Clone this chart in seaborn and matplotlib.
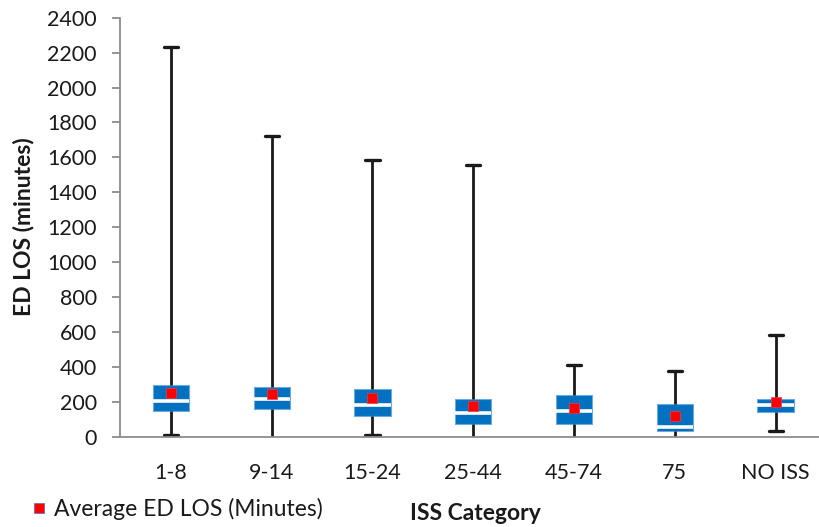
import numpy as np
import pandas as pd
import matplotlib
matplotlib.use("Agg")
import matplotlib.pyplot as plt
from matplotlib.ticker import FixedLocator, MultipleLocator
from matplotlib.lines import Line2D
import seaborn as sns

categories = ["1-8", "9-14", "15-24", "25-44", "45-74", "75", "NO ISS"]
mins = [8, 0, 8, 0, 0, 0, 30]
q1 = [150, 160, 120, 74, 74, 34, 143]
medians = [206, 215, 179, 135, 150, 55, 179]
q3 = [297, 284, 274, 215, 236, 189, 217]
maxs = [2235, 1720, 1583, 1555, 408, 379, 580]
means = [253, 244, 219, 173, 166, 116, 198]

rows = []
for c, a, b, m, d, e in zip(categories, mins, q1, medians, q3, maxs):
    for v in (a, b, m, d, e):
        rows.append({"cat": c, "val": v})
df = pd.DataFrame(rows)
mean_df = pd.DataFrame({"cat": categories, "mean": means})

sns.set_theme(style="white")
plt.rcParams["font.family"] = ["Lato", "DejaVu Sans"]

TXT = "#1a1a1a"
fig = plt.figure(figsize=(8.2, 5.27), dpi=100)
ax = fig.add_axes([120.5 / 820, 1 - 436.7 / 527, 705.5 / 820, (436.7 - 17.7) / 527])

sns.boxplot(
    data=df, x="cat", y="val", order=categories, whis=(0, 100), width=0.36,
    color="#0070C0", showfliers=False, ax=ax, zorder=3,
    boxprops=dict(facecolor="#0070C0", edgecolor="#6FA8DC", linewidth=0.8),
    medianprops=dict(color="white", linewidth=2.6, solid_capstyle="butt"),
    whiskerprops=dict(color="#1a1a1a", linewidth=2.0),
    capprops=dict(color="#1a1a1a", linewidth=2.4),
)
# shorten caps; caps sitting on the axis are hidden by it
for line in ax.lines:
    xd = np.asarray(line.get_xdata(), dtype=float)
    yd = np.asarray(line.get_ydata(), dtype=float)
    if len(xd) == 2 and yd[0] == yd[1] and line.get_color() == "#1a1a1a":
        cx = xd.mean()
        line.set_xdata([cx - 0.07, cx + 0.07])
        if yd[0] == 0:
            line.set_visible(False)

sns.scatterplot(data=mean_df, x="cat", y="mean", marker="s", s=50, color="#FF0000",
                edgecolor="#E04050", linewidth=0.5, ax=ax, zorder=5, legend=False)

ax.set_xlim(-0.5, len(categories) - 0.5)
ax.set_ylim(0, 2400)
ax.yaxis.set_major_locator(MultipleLocator(200))
ax.set_xticks(range(len(categories)))
ax.set_xticklabels(categories)
ax.xaxis.set_minor_locator(FixedLocator(np.arange(-0.5, len(categories), 1.0)))

for s in ["top", "right"]:
    ax.spines[s].set_visible(False)
for s in ["left", "bottom"]:
    ax.spines[s].set_color("#8C8C8C")
    ax.spines[s].set_linewidth(1.3)
    ax.spines[s].set_zorder(6)

ax.tick_params(axis="x", which="major", length=0, pad=19, labelsize=15.5, labelcolor=TXT)
ax.tick_params(axis="x", which="minor", length=6, width=1.3, color="#8C8C8C", direction="out")
ax.tick_params(axis="y", which="major", length=6, width=1.3, color="#8C8C8C", direction="out",
               pad=11, labelsize=15.5, labelcolor=TXT, left=True)
ax.grid(False)

ax.set_xlabel("")
ax.set_ylabel("")
fig.text(24 / 820, 1 - 227 / 527, "ED LOS (minutes)", rotation=90, ha="center", va="center",
         fontsize=16.5, fontweight="bold", color=TXT)
fig.text(475 / 820, 1 - 514 / 527, "ISS Category", ha="center", va="center",
         fontsize=16.5, fontweight="bold", color=TXT)

handle = Line2D([], [], marker="s", linestyle="none", markersize=6.5,
                markerfacecolor="#FF0000", markeredgecolor="#7070C0", markeredgewidth=0.6)
fig.legend([handle], ["Average ED LOS (Minutes)"], loc="center left",
           bbox_to_anchor=(33 / 820, 1 - 509 / 527), frameon=False, fontsize=16.5,
           handlelength=0.5, handletextpad=0.4, borderaxespad=0, borderpad=0,
           labelcolor=TXT)

fig.savefig("out.png", dpi=100)
